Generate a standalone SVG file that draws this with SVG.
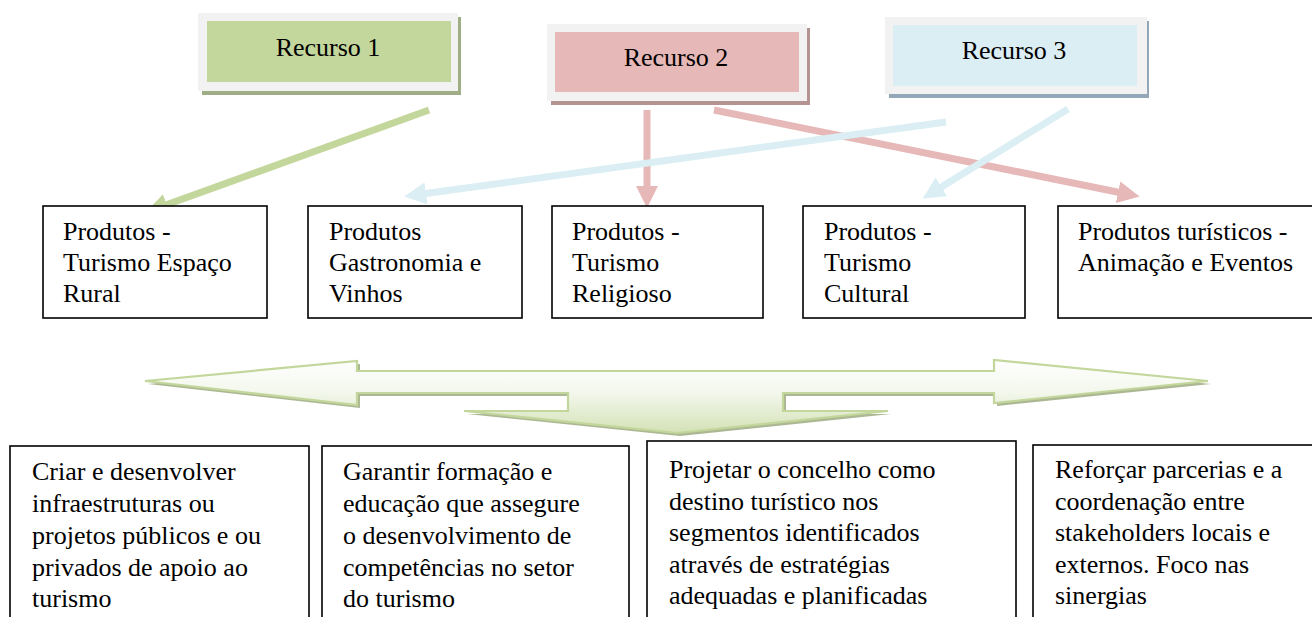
<svg xmlns="http://www.w3.org/2000/svg" width="1312" height="617" viewBox="0 0 1312 617">
<style>
text{font-family:"Liberation Serif","Times New Roman",serif;font-size:26px;fill:#000}
.frame{fill:#f2f2f2}
.box{fill:#fff;stroke:#000;stroke-width:1.6}
.c{text-anchor:middle}
.ln{fill:none;stroke-width:7}
</style>
<defs>
<marker id="hg" markerUnits="userSpaceOnUse" markerWidth="22" markerHeight="22" refX="4" refY="11" orient="auto"><path d="M0,0 L22,11 L0,22 Z" fill="#c3d69b"/></marker>
<marker id="hp" markerUnits="userSpaceOnUse" markerWidth="22" markerHeight="22" refX="4" refY="11" orient="auto"><path d="M0,0 L22,11 L0,22 Z" fill="#e6b8b7"/></marker>
<marker id="hb" markerUnits="userSpaceOnUse" markerWidth="22" markerHeight="22" refX="4" refY="11" orient="auto"><path d="M0,0 L22,11 L0,22 Z" fill="#daeef3"/></marker>
<linearGradient id="ag" x1="0" y1="0" x2="0" y2="1">
<stop offset="0" stop-color="#ffffff"/>
<stop offset="0.45" stop-color="#f3f7ec"/>
<stop offset="1" stop-color="#d3e2b6"/>
</linearGradient>
</defs>
<rect width="1312" height="617" fill="#fff"/>

<g id="recurso1">
<rect x="202" y="17" width="259" height="78" fill="#9fae84"/>
<rect class="frame" x="198" y="13" width="260" height="78"/>
<rect x="207" y="21" width="244" height="61" fill="#c3d69b"/>
<text class="c" x="328" y="56">Recurso 1</text>
</g>
<g id="recurso2">
<rect x="551" y="28" width="259" height="77" fill="#b59393"/>
<rect class="frame" x="547" y="24" width="260" height="77"/>
<rect x="555" y="32" width="244" height="60" fill="#e6b8b7"/>
<text class="c" x="676" y="66">Recurso 2</text>
</g>
<g id="recurso3">
<rect x="889" y="21" width="260" height="77" fill="#94a7b8"/>
<rect class="frame" x="885" y="17" width="262" height="77"/>
<rect x="893" y="25" width="244" height="61" fill="#daeef3"/>
<text class="c" x="1014" y="59">Recurso 3</text>
</g>

<g id="connectors">
<line class="ln" x1="429" y1="110" x2="163" y2="206" stroke="#c3d69b" marker-end="url(#hg)"/>
<line class="ln" x1="647" y1="110" x2="647" y2="190" stroke="#e6b8b7" marker-end="url(#hp)"/>
<line class="ln" x1="714" y1="110" x2="1122" y2="193" stroke="#e6b8b7" marker-end="url(#hp)"/>
<line class="ln" x1="946" y1="122" x2="422" y2="194" stroke="#daeef3" stroke-width="6" marker-end="url(#hb)"/>
<line class="ln" x1="1068" y1="109" x2="938" y2="189" stroke="#daeef3" stroke-width="6" marker-end="url(#hb)"/>
</g>

<g id="p1"><rect class="box" x="43" y="206" width="224" height="112"/>
<text x="63" y="240">Produtos -</text><text x="63" y="271">Turismo Espaço</text><text x="63" y="302">Rural</text></g>
<g id="p2"><rect class="box" x="308" y="206" width="214" height="112"/>
<text x="329" y="240">Produtos</text><text x="329" y="271">Gastronomia e</text><text x="329" y="302">Vinhos</text></g>
<g id="p3"><rect class="box" x="552" y="206" width="211" height="112"/>
<text x="572" y="240">Produtos -</text><text x="572" y="271">Turismo</text><text x="572" y="302">Religioso</text></g>
<g id="p4"><rect class="box" x="803" y="206" width="222" height="112"/>
<text x="824" y="240">Produtos -</text><text x="824" y="271">Turismo</text><text x="824" y="302">Cultural</text></g>
<g id="p5"><rect class="box" x="1058" y="206" width="270" height="112"/>
<text x="1078" y="240">Produtos turísticos -</text><text x="1078" y="271">Animação e Eventos</text></g>

<g id="bigarrow">
<path d="M145,381 L357,361 L357,371 L994,371 L994,360 L1208,381 L994,403 L994,393 L783,393 L783,411 L888,411 L677,433 L464,411 L568,411 L568,393 L357,393 L357,405 Z" transform="translate(3,3)" fill="#9dab80" opacity="0.85"/>
<path d="M145,381 L357,361 L357,371 L994,371 L994,360 L1208,381 L994,403 L994,393 L783,393 L783,411 L888,411 L677,433 L464,411 L568,411 L568,393 L357,393 L357,405 Z" fill="url(#ag)" stroke="#c3d69b" stroke-width="2.2" stroke-linejoin="miter"/>
</g>

<g id="b1"><rect class="box" x="10" y="446" width="299" height="190"/>
<text x="32" y="480">Criar e desenvolver</text><text x="32" y="512">infraestruturas ou</text><text x="32" y="544">projetos públicos e ou</text><text x="32" y="576">privados de apoio ao</text><text x="32" y="607">turismo</text></g>
<g id="b2"><rect class="box" x="322" y="446" width="307" height="190"/>
<text x="343" y="480">Garantir formação e</text><text x="343" y="512">educação que assegure</text><text x="343" y="544">o desenvolvimento de</text><text x="343" y="576">competências no setor</text><text x="343" y="607">do turismo</text></g>
<g id="b3"><rect class="box" x="647" y="441" width="369" height="195"/>
<text x="669" y="478">Projetar o concelho como</text><text x="669" y="510">destino turístico nos</text><text x="669" y="541">segmentos identificados</text><text x="669" y="573">através de estratégias</text><text x="669" y="604">adequadas e planificadas</text></g>
<g id="b4"><rect class="box" x="1033" y="445" width="290" height="191"/>
<text x="1055" y="478">Reforçar parcerias e a</text><text x="1055" y="510">coordenação entre</text><text x="1055" y="541">stakeholders locais e</text><text x="1055" y="573">externos. Foco nas</text><text x="1055" y="604">sinergias</text></g>
</svg>
